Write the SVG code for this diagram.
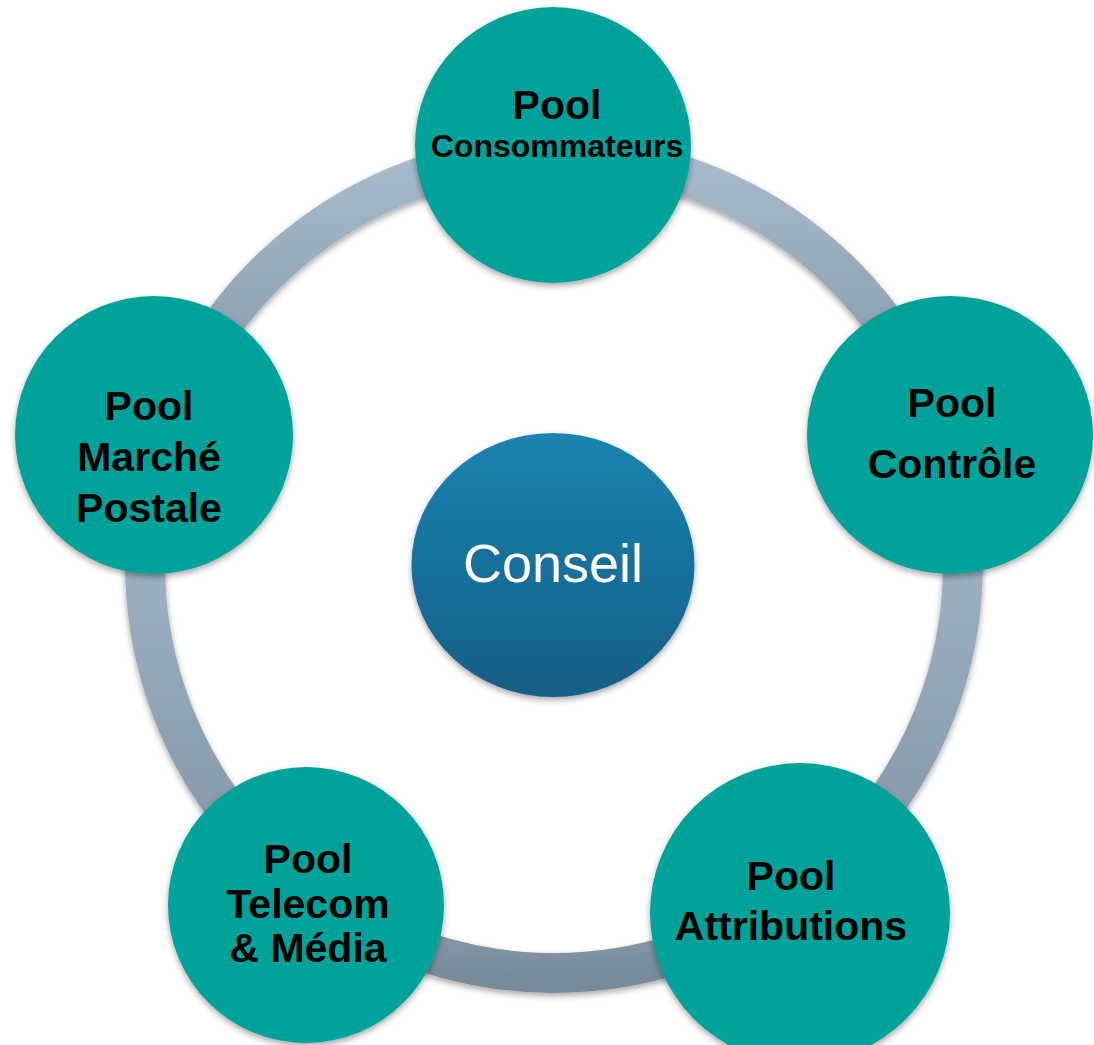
<svg xmlns="http://www.w3.org/2000/svg" width="1094" height="1045" viewBox="0 0 1094 1045">
<defs>
<linearGradient id="ringGrad" x1="0" y1="0" x2="0" y2="1">
<stop offset="0" stop-color="#a7bbcc"/>
<stop offset="1" stop-color="#8294a3"/>
</linearGradient>
<linearGradient id="ringGradB" x1="0" y1="0" x2="0" y2="1">
<stop offset="0" stop-color="#93a6b6"/>
<stop offset="1" stop-color="#798b99"/>
</linearGradient>
<linearGradient id="centerGrad" x1="0" y1="0" x2="0" y2="1">
<stop offset="0" stop-color="#1b83b1"/>
<stop offset="1" stop-color="#155e85"/>
</linearGradient>
<filter id="shadow" filterUnits="userSpaceOnUse" x="0" y="0" width="1094" height="1045">
<feDropShadow dx="0" dy="3" stdDeviation="3" flood-color="#000" flood-opacity="0.35"/>
</filter>
</defs>
<style>
.ring{fill:none;stroke-width:40;filter:url(#shadow)}
.node{fill:#00a29a;filter:url(#shadow)}
.lbl{font-family:"Liberation Sans",Arial,sans-serif;font-weight:bold;font-size:41px;fill:#000;text-anchor:middle}
.small{font-size:32px}
.ctr{font-family:"Liberation Sans",Arial,sans-serif;font-size:54px;fill:#fff;text-anchor:middle}
</style>
<rect width="1094" height="1045" fill="#fff"/>
<g id="connectors">
<path class="ring" stroke="url(#ringGrad)" d="M554 155 A409 409 0 0 1 943 437.6"/>
<path class="ring" stroke="url(#ringGrad)" d="M943 437.6 A409 409 0 0 1 789.7 898.2"/>
<path class="ring" stroke="url(#ringGradB)" d="M789.7 898.2 A409 409 0 0 1 313.6 894.9"/>
<path class="ring" stroke="url(#ringGrad)" d="M313.6 894.9 A409 409 0 0 1 164.8 438.3"/>
<path class="ring" stroke="url(#ringGrad)" d="M164.8 438.3 A409 409 0 0 1 554 155"/>
</g>
<g id="conseil">
<ellipse cx="553" cy="565" rx="141.5" ry="132" fill="url(#centerGrad)" filter="url(#shadow)"/>
<text class="ctr" x="553" y="582">Conseil</text>
</g>
<g id="pool-consommateurs">
<circle class="node" cx="553" cy="145" r="138"/>
<text class="lbl" x="557" y="119">Pool</text>
<text class="lbl small" x="557" y="157">Consommateurs</text>
</g>
<g id="pool-controle">
<ellipse class="node" cx="950" cy="435" rx="143" ry="139"/>
<text class="lbl" x="952" y="417">Pool</text>
<text class="lbl" x="952" y="478">Contrôle</text>
</g>
<g id="pool-attributions">
<circle class="node" cx="800" cy="913" r="150"/>
<text class="lbl" x="791" y="890">Pool</text>
<text class="lbl" x="791" y="940">Attributions</text>
</g>
<g id="pool-telecom">
<circle class="node" cx="306" cy="905" r="138"/>
<text class="lbl" x="308" y="873">Pool</text>
<text class="lbl" x="308" y="918">Telecom</text>
<text class="lbl" x="308" y="962">&amp; Média</text>
</g>
<g id="pool-marche-postale">
<circle class="node" cx="154" cy="435" r="139"/>
<text class="lbl" x="149" y="420">Pool</text>
<text class="lbl" x="149" y="471">Marché</text>
<text class="lbl" x="149" y="522">Postale</text>
</g>
</svg>
